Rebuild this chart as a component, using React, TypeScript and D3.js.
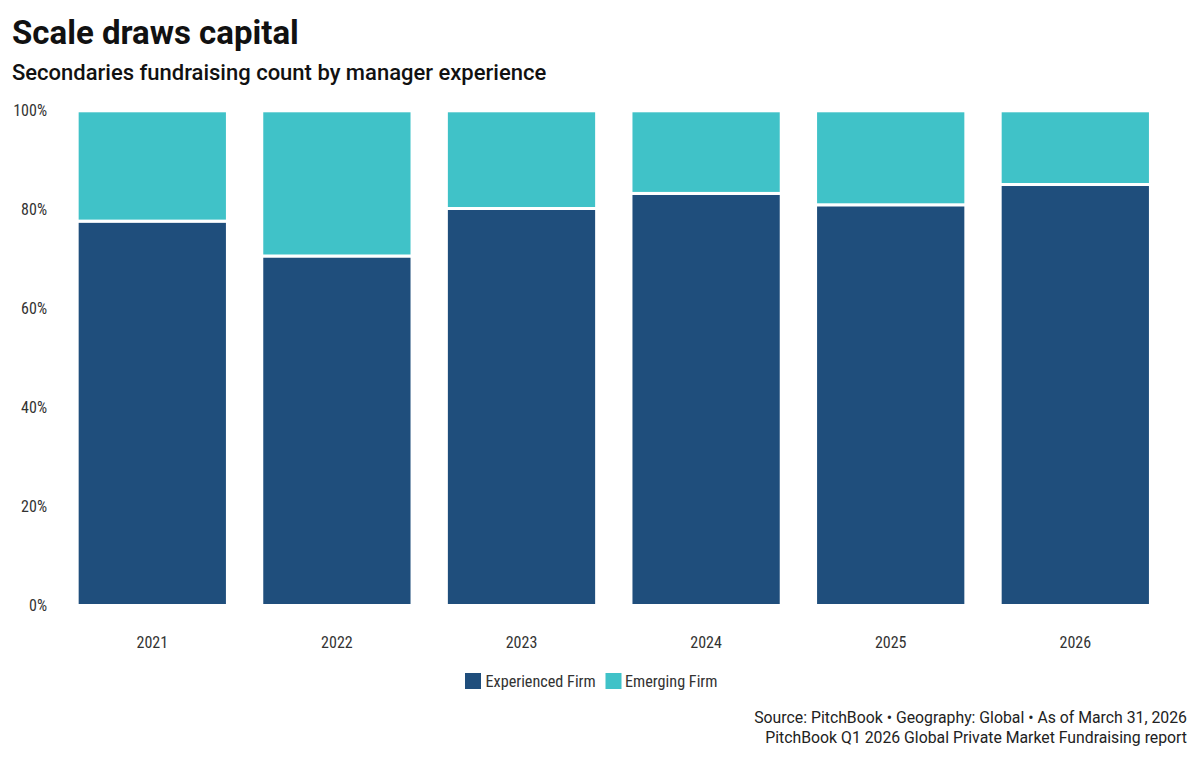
import React from "react";
import * as d3 from "d3";

const years = ["2021", "2022", "2023", "2024", "2025", "2026"];
const experienced = [77.7, 70.65, 80.25, 83.3, 81.0, 85.1];
const emerging = [22.3, 29.35, 19.75, 16.7, 19.0, 14.9];
const yTicks = [0, 20, 40, 60, 80, 100];
const seriesNames = ["Experienced Firm", "Emerging Firm"];
const seriesColors = ["#1F4E7C", "#40C2C8"];

const W = 1200;
const H = 762;
const COND = "'Roboto Condensed', 'Liberation Sans Narrow', 'Arial Narrow', Roboto, sans-serif";

export default function App() {
  const x = d3.scaleBand<string>().domain(years).range([58.7, 1168.9]).paddingInner(0.186).paddingOuter(0.1);
  const y = d3.scaleLinear().domain([0, 100]).range([605.5, 110.8]);
  const rows = years.map((yr, i) => ({ year: yr, exp: experienced[i], em: emerging[i] }));
  const stack = d3.stack<any>().keys(["exp", "em"])(rows);

  return (
    <svg width={W} height={H} style={{ display: "block", position: "absolute", left: 0, top: 0, background: "#fff" }}>
      <text x={12} y={44} fontFamily="Roboto, sans-serif" fontWeight={700} fontSize={33} fill="#111">Scale draws capital</text>
      <text x={12} y={80} fontFamily="Roboto, sans-serif" fontWeight={500} fontSize={22} fill="#111">Secondaries fundraising count by manager experience</text>

      {yTicks.map((t) => (
        <text key={t} x={47} y={y(t)} dy="0.35em" textAnchor="end" fontFamily={COND} fontSize={16} fill="#333">{t}%</text>
      ))}

      {stack.map((s, si) => (
        <g key={si} fill={seriesColors[si]}>
          {s.map((d: any, i: number) => (
            <rect key={i} x={x(years[i])!} width={x.bandwidth()} y={y(d[1])} height={y(d[0]) - y(d[1])} stroke="#fff" strokeWidth={3} />
          ))}
        </g>
      ))}

      {years.map((yr) => (
        <text key={yr} x={x(yr)! + x.bandwidth() / 2} y={648} textAnchor="middle" fontFamily={COND} fontSize={16} fill="#333">{yr}</text>
      ))}

      <g>
        <rect x={465} y={673} width={16} height={16} fill={seriesColors[0]} />
        <text x={485.5} y={687} fontFamily={COND} fontSize={16.2} fill="#333">{seriesNames[0]}</text>
        <rect x={605.5} y={673} width={16} height={16} fill={seriesColors[1]} />
        <text x={625} y={687} fontFamily={COND} fontSize={16.2} fill="#333">{seriesNames[1]}</text>
      </g>

      <text x={1187} y={723} textAnchor="end" fontFamily="Roboto, sans-serif" fontSize={15.8} fill="#222">Source: PitchBook • Geography: Global • As of March 31, 2026</text>
      <text x={1187} y={743} textAnchor="end" fontFamily="Roboto, sans-serif" fontSize={15.8} fill="#222">PitchBook Q1 2026 Global Private Market Fundraising report</text>
    </svg>
  );
}
